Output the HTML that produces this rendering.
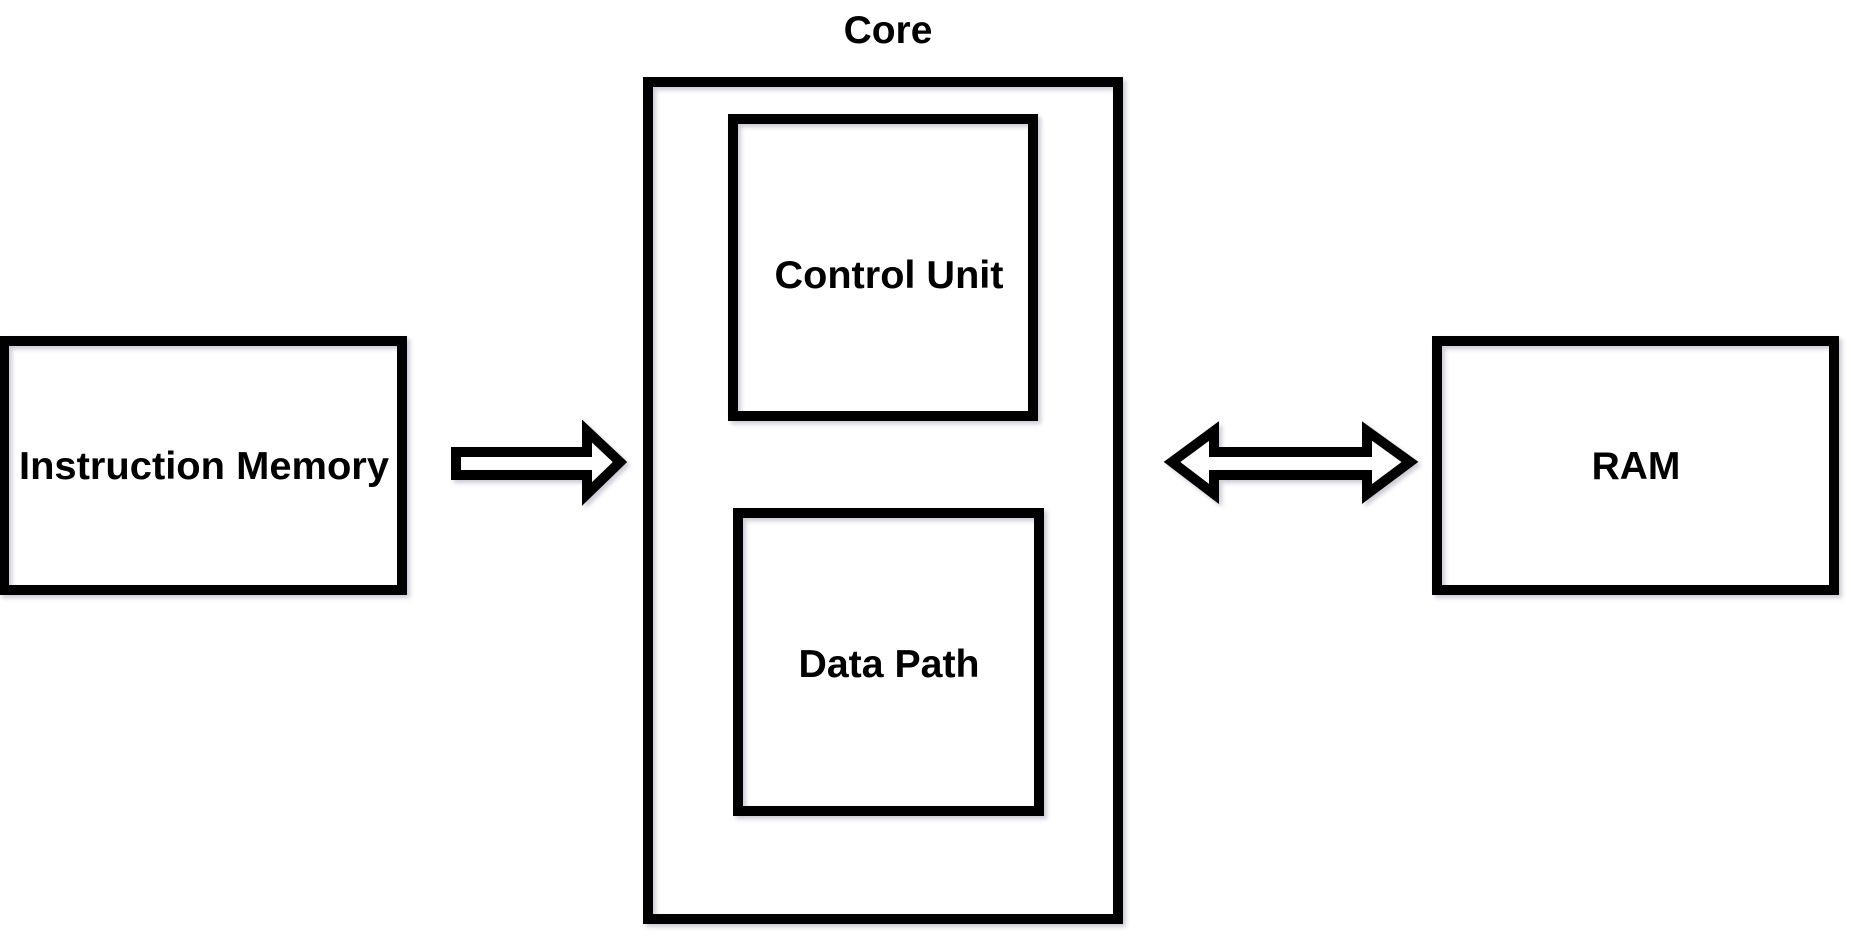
<!DOCTYPE html>
<html><head><meta charset="utf-8"><style>
html,body{margin:0;padding:0;background:#fff;}
svg{display:block;}
text{font-family:"Liberation Sans",Arial,sans-serif;font-weight:bold;font-size:39px;fill:#000;}
</style></head><body>
<svg width="1851" height="939" viewBox="0 0 1851 939" xmlns="http://www.w3.org/2000/svg">
<defs><filter id="sh" x="-5%" y="-5%" width="110%" height="110%"><feDropShadow dx="3" dy="3" stdDeviation="2" flood-color="#99a" flood-opacity="0.5"/></filter></defs>
<g fill="none" stroke="#000" stroke-width="10" stroke-linejoin="miter" filter="url(#sh)">
<rect x="648" y="82" width="470" height="837"/>
<rect x="733" y="119" width="300" height="297"/>
<rect x="738" y="513" width="301" height="298"/>
<rect x="4" y="341" width="398" height="249"/>
<rect x="1437" y="341" width="397" height="249"/>
<polygon fill="#fff" points="456,452 587,452 587,431 620,462 587,494 587,475 456,475"/>
<polygon fill="#fff" points="1172,462 1214,431 1214,452 1367,452 1367,431 1410,462 1367,494 1367,475 1214,475 1214,494"/>
</g>
<text x="888" y="43" text-anchor="middle">Core</text>
<text x="889" y="288" text-anchor="middle" textLength="229" lengthAdjust="spacingAndGlyphs">Control Unit</text>
<text x="889" y="677" text-anchor="middle" textLength="181" lengthAdjust="spacingAndGlyphs">Data Path</text>
<text x="204" y="479" text-anchor="middle" textLength="370" lengthAdjust="spacingAndGlyphs">Instruction Memory</text>
<text x="1636" y="479" text-anchor="middle">RAM</text>
</svg>
</body></html>
